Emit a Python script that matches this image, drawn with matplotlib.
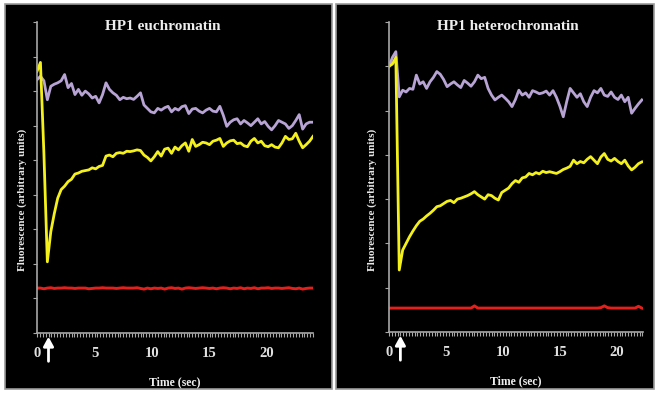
import numpy as np
import matplotlib
matplotlib.use("Agg")
import matplotlib.pyplot as plt
from matplotlib.patches import Rectangle
from matplotlib.ticker import MultipleLocator

# sampled every 0.3 s
t_eu = np.arange(0, 24.01, 0.3)
t_het = np.arange(0, 22.21, 0.3)

eu_yellow = [7.57, 7.83, 5.2, 2.06, 2.93, 3.45, 3.9, 4.15, 4.25, 4.38,
             4.45, 4.6, 4.63, 4.68, 4.7, 4.72, 4.78, 4.75, 4.82, 4.85,
             5.12, 5.15, 5.1, 5.2, 5.22, 5.2, 5.26, 5.25, 5.27, 5.3,
             5.28, 5.15, 5.08, 4.98, 5.1, 5.25, 5.12, 5.32, 5.35, 5.2,
             5.38, 5.3, 5.42, 5.5, 5.26, 5.6, 5.4, 5.45, 5.52, 5.5,
             5.45, 5.55, 5.58, 5.63, 5.4, 5.5, 5.56, 5.58, 5.48, 5.5,
             5.42, 5.39, 5.55, 5.63, 5.5, 5.55, 5.42, 5.39, 5.45, 5.38,
             5.36, 5.5, 5.69, 5.6, 5.62, 5.78, 5.55, 5.36, 5.45, 5.55,
             5.69]
eu_purple = [7.33, 7.43, 7.3, 6.75, 7.14, 7.2, 7.24, 7.3, 7.48, 7.1,
             7.22, 6.9, 7.05, 6.88, 7.0, 6.92, 6.8, 6.85, 6.66, 6.9,
             7.24, 7.05, 6.95, 6.88, 6.75, 6.82, 6.78, 6.8, 6.76, 6.85,
             6.95, 6.6, 6.5, 6.4, 6.37, 6.5, 6.45, 6.52, 6.56, 6.4,
             6.5, 6.45, 6.55, 6.58, 6.35, 6.48, 6.5, 6.42, 6.37, 6.45,
             6.5, 6.42, 6.4, 6.56, 6.3, 5.98, 6.1, 6.17, 6.2, 6.05,
             6.15, 6.08, 6.0, 6.1, 6.2, 6.05, 6.12, 5.98, 5.88, 6.0,
             6.15, 6.1, 6.05, 5.92, 6.0, 6.15, 6.32, 5.9, 6.05, 6.1,
             6.1]
eu_red = [1.3, 1.3, 1.28, 1.3, 1.31, 1.29, 1.3, 1.3, 1.31, 1.3,
          1.3, 1.29, 1.3, 1.3, 1.3, 1.28, 1.29, 1.3, 1.3, 1.31,
          1.3, 1.3, 1.3, 1.29, 1.3, 1.31, 1.3, 1.3, 1.3, 1.31,
          1.29, 1.27, 1.3, 1.28, 1.3, 1.29, 1.3, 1.27, 1.3, 1.31,
          1.29, 1.3, 1.27, 1.3, 1.31, 1.3, 1.29, 1.3, 1.31, 1.3,
          1.29, 1.3, 1.28, 1.3, 1.31, 1.3, 1.28, 1.3, 1.29, 1.31,
          1.28, 1.3, 1.29, 1.31, 1.28, 1.3, 1.3, 1.31, 1.29, 1.3,
          1.3, 1.29, 1.3, 1.31, 1.29, 1.28, 1.3, 1.27, 1.29, 1.3,
          1.3]

het_yellow = [6.0, 6.05, 6.2, 1.4, 1.85, 2.0, 2.15, 2.28, 2.4, 2.5,
              2.55, 2.62, 2.68, 2.75, 2.83, 2.85, 2.9, 2.95, 2.97, 2.92,
              3.0, 3.02, 3.05, 3.08, 3.12, 3.17, 3.1, 3.05, 3.0, 3.1,
              3.08, 3.02, 2.98, 3.15, 3.2, 3.25, 3.35, 3.42, 3.38, 3.48,
              3.5, 3.58, 3.55, 3.6, 3.57, 3.63, 3.6, 3.62, 3.6, 3.58,
              3.62, 3.67, 3.7, 3.74, 3.88, 3.8, 3.85, 3.82, 3.9, 3.96,
              3.88, 3.8, 3.95, 4.03, 3.9, 3.86, 3.92, 3.85, 3.8, 3.88,
              3.75, 3.66, 3.72, 3.8, 3.84]
het_purple = [5.99, 6.2, 6.33, 5.31, 5.46, 5.42, 5.5, 5.48, 5.8, 5.6,
              5.65, 5.5, 5.65, 5.75, 5.88, 5.82, 5.7, 5.54, 5.6, 5.65,
              5.58, 5.52, 5.68, 5.62, 5.55, 5.65, 5.8, 5.72, 5.75, 5.5,
              5.35, 5.24, 5.3, 5.35, 5.28, 5.2, 5.09, 5.25, 5.46, 5.35,
              5.4, 5.3, 5.45, 5.42, 5.38, 5.4, 5.44, 5.35, 5.45, 5.3,
              5.1, 4.86, 5.2, 5.5, 5.4, 5.3, 5.38, 5.2, 5.09, 5.3,
              5.45, 5.4, 5.5, 5.35, 5.32, 5.42, 5.3, 5.25, 5.35, 5.2,
              5.3, 4.94, 5.05, 5.15, 5.24]
het_red = [0.54, 0.54, 0.54, 0.54, 0.54, 0.54, 0.54, 0.54, 0.54, 0.54,
           0.54, 0.54, 0.54, 0.54, 0.54, 0.54, 0.54, 0.54, 0.54, 0.54,
           0.54, 0.54, 0.54, 0.54, 0.54, 0.59, 0.54, 0.54, 0.54, 0.54,
           0.54, 0.54, 0.54, 0.54, 0.54, 0.54, 0.54, 0.54, 0.54, 0.54,
           0.54, 0.54, 0.54, 0.54, 0.54, 0.54, 0.54, 0.54, 0.54, 0.54,
           0.54, 0.54, 0.54, 0.54, 0.54, 0.54, 0.54, 0.54, 0.54, 0.54,
           0.54, 0.54, 0.55, 0.59, 0.55, 0.54, 0.54, 0.54, 0.54, 0.54,
           0.54, 0.54, 0.54, 0.58, 0.54]

titles = ["HP1 euchromatin", "HP1 heterochromatin"]
bleach_time = 1.0

YELLOW = "#f4f01c"
PURPLE = "#b7a3d4"
RED = "#e3201b"
GREY = "#a8a8a8"
SERIF = "Liberation Serif"

W, H = 658, 394
fig = plt.figure(figsize=(W / 100, H / 100), dpi=100, facecolor="white")

# black panels with grey frame, kept behind the axes
for x0, x1 in [(5, 332), (336, 654)]:
    fig.add_artist(Rectangle((x0 / W, 1 - 389 / H), (x1 - x0) / W, 385 / H,
                             transform=fig.transFigure, facecolor="black",
                             edgecolor="#9a9a9a", linewidth=1.2, zorder=-5))


def panel(rect, t, yellow, purple, red, xmax, ymax, title, title_x, ylab_x):
    ax = fig.add_axes(rect, zorder=2)
    ax.set_facecolor("black")
    ax.plot(t, red, color=RED, lw=2.1)
    ax.plot(t, purple, color=PURPLE, lw=2.0)
    ax.plot(t, yellow, color=YELLOW, lw=2.0)
    ax.set_xlim(0, xmax)
    ax.set_ylim(0, ymax)
    for s in ["top", "right"]:
        ax.spines[s].set_visible(False)
    for s in ["left", "bottom"]:
        ax.spines[s].set_color(GREY)
        ax.spines[s].set_linewidth(1.2)
    ax.xaxis.set_major_locator(MultipleLocator(5))
    ax.xaxis.set_minor_locator(MultipleLocator(0.25))
    ax.yaxis.set_major_locator(MultipleLocator(1))
    ax.set_yticklabels([])
    ax.tick_params(axis="both", which="both", colors=GREY, length=3, width=0.8)
    ax.tick_params(axis="x", labelcolor="#e0e0e0", labelsize=10.5, pad=7)
    for lab in ax.get_xticklabels():
        lab.set_fontfamily(SERIF)
        lab.set_fontweight("bold")
    ax.text(title_x, 0.985, title, transform=ax.transAxes, ha="center",
            va="center", color="#eeeeee", fontsize=11, fontweight="bold",
            family=SERIF)
    ax.set_xlabel("Time (sec)", color="#eeeeee", fontsize=8.5,
                  fontweight="bold", family=SERIF, labelpad=12)
    fig.text(ylab_x / W, 1 - 200 / H, "Fluorescence (arbitrary units)",
             rotation=90, ha="center", va="center", color="#e8e8e8",
             fontsize=8, fontweight="bold", family=SERIF, zorder=3)
    # bleach arrow
    ax.annotate("", xy=(bleach_time, -0.003), xycoords=("data", "axes fraction"),
                xytext=(bleach_time, -0.1), textcoords=("data", "axes fraction"),
                arrowprops=dict(arrowstyle="-|>,head_width=0.3,head_length=0.55",
                                color="white", lw=2))
    return ax


panel([37 / W, 1 - 333 / H, 276 / W, 311 / H], t_eu, eu_yellow, eu_purple,
      eu_red, 24.0, 9, titles[0], 0.457, 22)
panel([389 / W, 1 - 332 / H, 254 / W, 310 / H], t_het, het_yellow, het_purple,
      het_red, 22.3, 7, titles[1], 0.468, 372)

fig.savefig("out.png", dpi=100, facecolor="white")
